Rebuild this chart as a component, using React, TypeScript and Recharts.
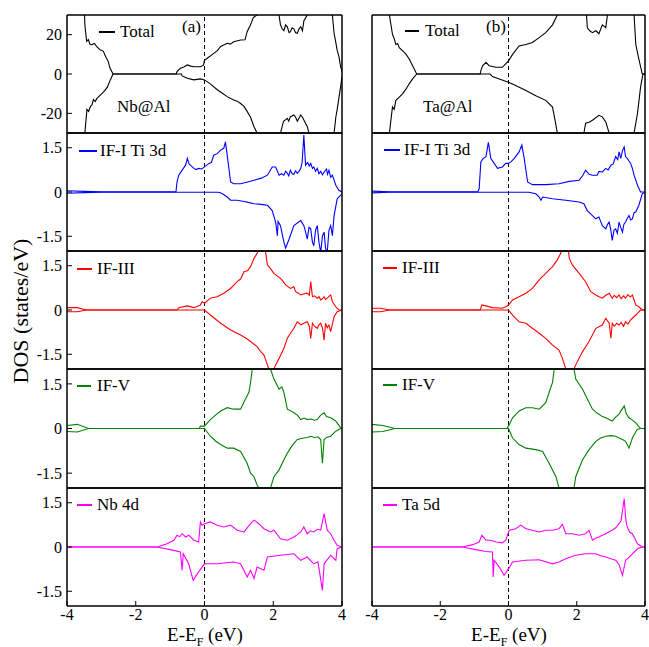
import React from 'react';
import { LineChart, Line, XAxis, YAxis, ReferenceLine } from 'recharts';

type Pt = [number, number];

// axis ticks
const energyTicks = [-4, -2, 0, 2, 4];
const totalTicks = [-20, 0, 20];
const pdosTicks = [-1.5, 0, 1.5];

// (a) Nb@Al  -- [E - EF (eV), DOS (states/eV)], spin up then spin down
const nbTotalUp: Pt[] = [[-4,45],[-3.52,45],[-3.48,25],[-3.45,20],[-3.43,16.6],[-3.38,17.5],[-3.33,15],[-3.28,14.9],[-3.2,15.5],[-3.14,14],[-3.08,13],[-3.04,12.3],[-2.98,12],[-2.94,11.4],[-2.88,9],[-2.8,6.3],[-2.75,3],[-2.66,0],[-0.82,0],[-0.8,1.2],[-0.7,2.9],[-0.6,3.6],[-0.5,4.6],[-0.4,4],[-0.31,3.7],[-0.12,3.7],[-0.03,4.5],[0,7],[0.08,8],[0.27,10.5],[0.38,12],[0.47,14],[0.66,15.6],[0.75,15.2],[0.85,16.4],[1.05,17.3],[1.18,17.4],[1.24,21.5],[1.34,25],[1.42,28.7],[1.53,30],[1.6,38],[2.1,38],[2.21,25],[2.26,23],[2.31,22],[2.36,25],[2.41,24],[2.46,21],[2.5,21.5],[2.55,23.5],[2.6,23],[2.65,21],[2.7,20.7],[2.75,23],[2.8,24],[2.85,22],[2.89,27],[2.99,30],[3.1,40],[3.65,40],[3.72,30],[3.77,20.7],[3.81,17],[3.86,12],[3.91,9],[3.96,3.7],[4,1.2]];
const nbTotalDn: Pt[] = [[-4,-45],[-3.52,-45],[-3.48,-30],[-3.42,-18],[-3.37,-19],[-3.32,-16.6],[-3.27,-15.5],[-3.23,-13],[-3.18,-14],[-3.13,-12.4],[-3.03,-10.7],[-2.93,-9],[-2.83,-6.8],[-2.74,-3],[-2.66,0],[-0.67,0],[-0.65,-1],[-0.5,-2.2],[-0.31,-3],[-0.12,-2.5],[0,-3],[0.17,-5],[0.37,-8],[0.5,-9.5],[0.66,-11.5],[0.85,-13.2],[0.95,-13.8],[1.05,-15],[1.15,-16.5],[1.24,-19],[1.34,-22],[1.44,-26.8],[1.53,-30],[1.6,-38],[2.15,-38],[2.21,-30],[2.3,-24],[2.41,-22.5],[2.45,-24],[2.5,-21.7],[2.6,-20.8],[2.65,-22],[2.7,-24],[2.8,-20.8],[2.85,-22],[2.89,-23.4],[2.99,-26.8],[3.04,-30],[3.1,-40],[3.7,-40],[3.77,-30],[3.82,-22],[3.86,-18],[3.96,-6.4],[4,-1.4]];
const nbIF1Up: Pt[] = [[-4,0.04],[-3.5,0.02],[-3,0.01],[-0.83,0.01],[-0.8,0.34],[-0.75,0.57],[-0.65,0.74],[-0.55,0.91],[-0.5,1.14],[-0.45,0.95],[-0.41,0.91],[-0.31,0.8],[-0.25,0.76],[-0.17,0.8],[-0.08,0.78],[0,0.85],[0.13,0.97],[0.2,1.0],[0.27,1.25],[0.37,1.3],[0.47,1.42],[0.56,1.48],[0.61,1.7],[0.66,1.25],[0.76,0.34],[0.85,0.28],[1.05,0.28],[1.25,0.34],[1.44,0.4],[1.65,0.47],[1.83,0.57],[1.97,0.85],[2.07,0.85],[2.17,0.57],[2.24,0.62],[2.31,0.57],[2.36,0.7],[2.4,0.65],[2.45,0.55],[2.5,0.74],[2.55,0.62],[2.6,0.6],[2.65,0.72],[2.7,0.63],[2.75,0.7],[2.8,0.8],[2.84,1.0],[2.89,1.93],[2.94,0.91],[3.0,1.0],[3.05,0.88],[3.09,0.97],[3.14,0.8],[3.18,0.85],[3.23,0.7],[3.28,0.8],[3.33,0.62],[3.38,0.7],[3.43,0.58],[3.48,0.68],[3.55,0.78],[3.58,0.6],[3.62,0.74],[3.67,0.5],[3.72,0.57],[3.82,0.23],[3.91,0.06],[4,0]];
const nbIF1Dn: Pt[] = [[-4,-0.04],[-3.5,-0.02],[-3,-0.01],[0.4,-0.01],[0.5,-0.04],[0.66,-0.17],[0.76,-0.28],[0.95,-0.28],[1.15,-0.32],[1.3,-0.36],[1.44,-0.4],[1.65,-0.42],[1.83,-0.45],[1.97,-0.63],[2.07,-1.02],[2.12,-1.48],[2.14,-1.0],[2.21,-1.14],[2.31,-1.7],[2.36,-1.9],[2.46,-1.6],[2.6,-1.14],[2.7,-1.05],[2.8,-0.97],[2.89,-1.14],[2.94,-1.35],[2.99,-1.6],[3.04,-1.2],[3.09,-1.25],[3.14,-1.7],[3.18,-1.82],[3.23,-1.3],[3.28,-1.14],[3.33,-1.7],[3.38,-2.05],[3.43,-1.5],[3.48,-1.36],[3.52,-1.9],[3.57,-2.05],[3.62,-1.3],[3.67,-1.14],[3.72,-1.48],[3.77,-0.8],[3.86,-0.23],[4,-0.06]];
const nbIF3Up: Pt[] = [[-4,0.08],[-3.7,0.08],[-3.44,0],[-0.8,0],[-0.75,0.08],[-0.5,0.14],[-0.31,0.08],[-0.12,0.17],[-0.07,0.28],[0,0.23],[0.17,0.4],[0.37,0.45],[0.56,0.57],[0.76,0.73],[0.95,0.96],[1.05,1.05],[1.15,1.3],[1.25,1.33],[1.34,1.47],[1.44,1.75],[1.53,1.92],[1.6,2.1],[1.68,2.4],[1.76,2.1],[1.83,1.53],[1.92,1.4],[2.02,1.24],[2.12,1.15],[2.21,1.07],[2.28,0.98],[2.36,0.85],[2.5,0.73],[2.6,0.79],[2.65,0.62],[2.72,0.58],[2.8,0.51],[2.9,0.55],[2.99,0.57],[3.05,0.5],[3.09,0.96],[3.14,0.45],[3.2,0.48],[3.28,0.4],[3.33,0.45],[3.38,0.34],[3.43,0.38],[3.48,0.45],[3.52,0.36],[3.57,0.4],[3.62,0.46],[3.67,0.51],[3.72,0.28],[3.82,0.11],[3.91,0],[4,0]];
const nbIF3Dn: Pt[] = [[-4,-0.06],[-3.7,-0.06],[-3.44,0],[0,0],[0.17,-0.17],[0.47,-0.45],[0.76,-0.68],[1.05,-0.85],[1.2,-0.95],[1.34,-1.07],[1.53,-1.24],[1.63,-1.4],[1.73,-1.53],[1.83,-1.86],[1.87,-2.0],[1.95,-2.4],[2.02,-2.0],[2.07,-1.86],[2.17,-1.64],[2.31,-1.3],[2.41,-0.96],[2.5,-0.79],[2.6,-0.62],[2.7,-0.4],[2.8,-0.5],[2.89,-0.45],[2.99,-0.4],[3.05,-0.55],[3.09,-0.96],[3.14,-0.45],[3.2,-0.55],[3.28,-0.62],[3.33,-0.5],[3.38,-0.45],[3.43,-0.6],[3.48,-1.02],[3.52,-0.45],[3.57,-0.6],[3.62,-0.51],[3.67,-0.73],[3.77,-0.23],[3.86,-0.06],[4,0]];
const nbIF5Up: Pt[] = [[-4,0.1],[-3.7,0.14],[-3.37,0],[-0.15,0],[-0.12,0.08],[0,0.08],[0.17,0.3],[0.32,0.45],[0.47,0.59],[0.66,0.7],[0.85,0.65],[1.05,0.65],[1.19,0.99],[1.29,1.21],[1.34,1.55],[1.39,2.0],[1.63,2.5],[1.92,2.0],[2.02,1.66],[2.17,1.32],[2.25,1.4],[2.31,1.21],[2.41,0.65],[2.5,0.6],[2.6,0.53],[2.7,0.45],[2.8,0.3],[2.9,0.35],[2.99,0.3],[3.1,0.32],[3.2,0.28],[3.28,0.3],[3.38,0.45],[3.48,0.53],[3.55,0.4],[3.67,0.36],[3.75,0.3],[3.82,0.25],[3.9,0.12],[3.96,0.02],[4,0]];
const nbIF5Dn: Pt[] = [[-4,-0.1],[-3.7,-0.12],[-3.37,0],[0,0],[0.17,-0.26],[0.32,-0.42],[0.47,-0.54],[0.66,-0.66],[0.85,-0.66],[1.05,-0.77],[1.24,-1.17],[1.34,-1.5],[1.44,-1.62],[1.53,-1.9],[1.58,-2.0],[1.73,-2.3],[1.92,-2.0],[2.02,-1.62],[2.17,-1.39],[2.31,-1.05],[2.4,-0.85],[2.5,-0.66],[2.6,-0.5],[2.7,-0.37],[2.89,-0.32],[3.0,-0.3],[3.09,-0.26],[3.2,-0.3],[3.3,-0.28],[3.38,-0.37],[3.43,-1.17],[3.48,-0.37],[3.55,-0.3],[3.67,-0.26],[3.82,-0.09],[3.96,0],[4,0]];
const nb4dUp: Pt[] = [[-4,0],[-1.38,0],[-1.09,0.11],[-0.89,0.23],[-0.8,0.4],[-0.72,0.35],[-0.65,0.45],[-0.55,0.34],[-0.46,0.4],[-0.31,0.23],[-0.17,0.17],[-0.12,0.85],[-0.07,0.74],[0,0.79],[0.17,0.85],[0.37,0.74],[0.56,0.68],[0.76,0.74],[0.95,0.57],[1.15,0.51],[1.34,0.79],[1.44,0.91],[1.58,0.79],[1.73,0.62],[1.85,0.55],[1.92,0.51],[2.02,0.57],[2.21,0.28],[2.41,0.23],[2.6,0.34],[2.7,0.42],[2.8,0.51],[2.89,0.68],[2.99,0.45],[3.08,0.55],[3.18,0.51],[3.28,0.6],[3.38,0.57],[3.48,1.13],[3.57,0.57],[3.67,0.45],[3.77,0.23],[3.86,0.06],[4,0]];
const nb4dDn: Pt[] = [[-4,0],[-1.38,0],[-0.99,-0.09],[-0.7,-0.17],[-0.65,-0.79],[-0.62,-0.23],[-0.46,-0.57],[-0.33,-1.13],[-0.21,-0.91],[-0.07,-0.68],[0,-0.57],[0.37,-0.57],[0.85,-0.51],[1.05,-0.57],[1.24,-1.02],[1.34,-0.79],[1.44,-1.07],[1.53,-0.68],[1.73,-0.79],[1.83,-0.34],[2.21,-0.28],[2.6,-0.23],[2.8,-0.45],[2.99,-0.34],[3.08,-0.45],[3.18,-0.57],[3.3,-0.5],[3.43,-1.47],[3.48,-0.57],[3.67,-0.28],[3.82,-0.45],[3.86,-0.06],[4,0]];

// (b) Ta@Al
const taTotalUp: Pt[] = [[-4,45],[-3.55,45],[-3.49,30],[-3.4,20.2],[-3.35,18],[-3.3,15],[-3.25,15.5],[-3.2,13.4],[-3.1,11.8],[-3.0,10],[-2.91,7.6],[-2.81,4.2],[-2.69,0],[-0.83,0],[-0.81,1.7],[-0.76,4.2],[-0.66,5.9],[-0.57,4.2],[-0.37,3.4],[-0.18,3.4],[0,6.7],[0.12,10],[0.31,14.3],[0.51,15],[0.7,16],[0.9,18.5],[1.09,21],[1.29,25],[1.43,30],[1.5,40],[2.25,40],[2.31,23.5],[2.38,22],[2.46,21],[2.56,22],[2.65,20.5],[2.75,25],[2.85,23.5],[2.9,30],[2.95,40],[3.62,40],[3.68,30],[3.73,15],[3.82,7.6],[3.92,0],[4,0]];
const taTotalDn: Pt[] = [[-4,-45],[-3.55,-45],[-3.49,-30],[-3.4,-16.8],[-3.35,-18],[-3.3,-13.4],[-3.2,-11.8],[-3.1,-10],[-3.0,-7.6],[-2.91,-5],[-2.81,-2.5],[-2.69,0],[-0.54,0],[-0.47,-1.3],[-0.27,-2.5],[0,-4.2],[0.21,-5.9],[0.51,-8.4],[0.8,-11],[1.09,-13.4],[1.29,-16.8],[1.38,-25],[1.43,-30],[1.5,-40],[2.15,-40],[2.21,-30],[2.26,-25],[2.36,-24.5],[2.46,-23.5],[2.65,-21],[2.75,-21.8],[2.85,-24.4],[2.95,-30],[3.0,-40],[3.62,-40],[3.68,-30],[3.78,-20],[3.87,-6.7],[3.94,0],[4,0]];
const taIF1Up: Pt[] = [[-4,0.03],[-3.5,0.01],[-0.9,0.01],[-0.86,0.11],[-0.81,1.02],[-0.74,1.14],[-0.66,1.2],[-0.59,1.68],[-0.52,1.14],[-0.42,0.97],[-0.32,0.8],[-0.18,0.85],[-0.08,0.97],[0,0.97],[0.07,1.02],[0.17,1.14],[0.31,1.36],[0.39,1.59],[0.46,1.14],[0.56,0.34],[0.7,0.25],[1.09,0.25],[1.48,0.28],[1.78,0.36],[2.07,0.4],[2.17,0.55],[2.26,0.74],[2.36,0.6],[2.46,0.57],[2.6,0.57],[2.65,0.7],[2.75,0.68],[2.85,0.8],[2.92,0.75],[3.0,0.91],[3.07,0.95],[3.14,1.2],[3.2,1.1],[3.24,1.36],[3.29,1.14],[3.34,1.4],[3.39,1.53],[3.43,1.2],[3.48,1.14],[3.53,1.05],[3.58,0.97],[3.63,0.8],[3.68,0.57],[3.78,0.23],[3.87,0.0],[4,0]];
const taIF1Dn: Pt[] = [[-4,-0.03],[-3.5,-0.01],[0.6,-0.01],[0.8,-0.06],[0.9,-0.17],[0.95,-0.28],[1.0,-0.17],[1.29,-0.23],[1.68,-0.28],[2.07,-0.34],[2.21,-0.4],[2.31,-0.63],[2.46,-0.8],[2.56,-0.91],[2.65,-0.85],[2.75,-1.14],[2.85,-1.25],[2.9,-1.1],[2.95,-1.02],[3.0,-1.3],[3.04,-1.64],[3.09,-1.3],[3.14,-1.25],[3.19,-1.4],[3.24,-1.02],[3.29,-1.2],[3.34,-1.36],[3.38,-1.1],[3.43,-1.02],[3.48,-0.9],[3.53,-0.8],[3.58,-0.95],[3.63,-0.91],[3.68,-0.7],[3.73,-0.68],[3.82,-0.45],[3.92,-0.06],[4,0]];
const taIF3Up: Pt[] = [[-4,0.06],[-3.75,0.06],[-3.48,0],[-0.83,0],[-0.78,0.17],[-0.66,0.14],[-0.47,0.08],[-0.18,0.06],[-0.08,0.11],[0,0.17],[0.12,0.34],[0.31,0.45],[0.51,0.57],[0.7,0.73],[0.9,1.02],[1.09,1.24],[1.29,1.47],[1.43,1.7],[1.53,1.92],[1.63,2.4],[1.73,2.3],[1.78,1.75],[1.87,1.53],[2.07,1.24],[2.26,0.96],[2.41,0.62],[2.56,0.51],[2.65,0.45],[2.75,0.4],[2.85,0.5],[2.95,0.57],[3.04,0.4],[3.1,0.5],[3.17,0.42],[3.24,0.51],[3.3,0.38],[3.37,0.48],[3.43,0.4],[3.5,0.52],[3.57,0.44],[3.63,0.51],[3.73,0.17],[3.82,0.11],[3.92,0],[4,0]];
const taIF3Dn: Pt[] = [[-4,-0.06],[-3.75,-0.06],[-3.48,0],[0,0],[0.12,-0.17],[0.31,-0.4],[0.51,-0.45],[0.7,-0.62],[0.9,-0.79],[1.09,-0.96],[1.29,-1.19],[1.48,-1.36],[1.58,-1.64],[1.68,-2.0],[1.82,-2.3],[1.92,-2.0],[1.97,-1.86],[2.17,-1.41],[2.36,-1.07],[2.56,-0.62],[2.75,-0.51],[2.85,-0.28],[2.95,-0.45],[3.0,-0.96],[3.04,-0.45],[3.1,-0.55],[3.17,-0.45],[3.24,-0.51],[3.3,-0.42],[3.37,-0.55],[3.43,-0.4],[3.5,-0.48],[3.57,-0.35],[3.63,-0.28],[3.73,-0.17],[3.87,0],[4,0]];
const taIF5Up: Pt[] = [[-4,0.14],[-3.68,0.1],[-3.33,0],[-0.05,0],[0,0.08],[0.12,0.36],[0.31,0.59],[0.51,0.7],[0.7,0.7],[0.9,0.65],[1.09,0.87],[1.19,1.21],[1.29,1.55],[1.34,2.0],[1.63,2.4],[1.92,2.0],[1.97,1.66],[2.17,1.32],[2.31,0.99],[2.46,0.65],[2.56,0.55],[2.65,0.48],[2.75,0.4],[2.85,0.36],[2.95,0.3],[3.04,0.25],[3.14,0.38],[3.24,0.48],[3.3,0.6],[3.39,0.76],[3.45,0.5],[3.53,0.36],[3.63,0.28],[3.73,0.19],[3.87,0],[4,0]];
const taIF5Dn: Pt[] = [[-4,-0.12],[-3.68,-0.1],[-3.33,0],[0,0],[0.12,-0.32],[0.31,-0.54],[0.51,-0.66],[0.8,-0.71],[1.0,-0.77],[1.19,-1.17],[1.39,-1.62],[1.48,-2.0],[1.68,-2.3],[1.92,-2.0],[1.97,-1.62],[2.17,-1.05],[2.36,-0.71],[2.56,-0.43],[2.7,-0.32],[2.85,-0.26],[3.0,-0.24],[3.14,-0.26],[3.24,-0.32],[3.34,-0.37],[3.43,-0.43],[3.53,-0.66],[3.63,-0.32],[3.77,-0.03],[3.87,0],[4,0]];
const ta5dUp: Pt[] = [[-4,0],[-1.35,0],[-1.05,0.08],[-0.86,0.17],[-0.78,0.4],[-0.66,0.23],[-0.52,0.23],[-0.37,0.17],[-0.18,0.14],[-0.08,0.23],[0.02,0.57],[0.21,0.62],[0.36,0.74],[0.51,0.62],[0.7,0.57],[0.9,0.51],[1.09,0.57],[1.29,0.57],[1.48,0.62],[1.58,0.77],[1.68,0.45],[1.87,0.45],[2.07,0.4],[2.26,0.45],[2.36,0.57],[2.46,0.23],[2.55,0.3],[2.65,0.34],[2.75,0.4],[2.85,0.45],[2.95,0.52],[3.04,0.57],[3.14,0.65],[3.24,0.79],[3.3,0.9],[3.39,1.64],[3.44,0.9],[3.48,0.68],[3.55,0.5],[3.63,0.45],[3.7,0.3],[3.78,0.11],[3.92,0],[4,0]];
const ta5dDn: Pt[] = [[-4,0],[-1.35,0],[-0.96,-0.09],[-0.66,-0.15],[-0.47,-0.17],[-0.45,-1.02],[-0.42,-0.45],[-0.27,-0.68],[-0.13,-0.96],[0,-0.74],[0.12,-0.51],[0.51,-0.45],[0.9,-0.43],[1.29,-0.57],[1.48,-0.51],[1.68,-0.4],[1.97,-0.28],[2.26,-0.23],[2.56,-0.23],[2.7,-0.3],[2.85,-0.34],[3.0,-0.4],[3.14,-0.45],[3.24,-0.6],[3.34,-0.96],[3.43,-0.45],[3.53,-0.35],[3.63,-0.23],[3.78,-0.06],[3.92,0],[4,0]];

const FONT = "'Liberation Serif', 'Times New Roman', serif";
const ROW_TOP = [15, 133, 251, 369, 488];
const ROW_H = [118, 118, 118, 119, 118];

const pts = (a: Pt[]) => a.map(([x, y]) => ({ x, y }));

interface PanelDef {
  up: Pt[];
  dn: Pt[];
  color: string;
  label: string;
  total?: boolean;
  lx: number; // legend line start
  ll: number; // legend line length
  ly: number; // legend centre
  tx: number; // legend text start
}

const colA: PanelDef[] = [
  { up: nbTotalUp, dn: nbTotalDn, color: '#000', label: 'Total', total: true, lx: 99, ll: 16, ly: 32, tx: 120 },
  { up: nbIF1Up, dn: nbIF1Dn, color: '#0000ff', label: 'IF-I Ti 3d', lx: 79, ll: 18, ly: 151, tx: 100 },
  { up: nbIF3Up, dn: nbIF3Dn, color: '#ff0000', label: 'IF-III', lx: 77, ll: 15, ly: 269, tx: 97 },
  { up: nbIF5Up, dn: nbIF5Dn, color: '#008000', label: 'IF-V', lx: 77, ll: 14, ly: 386, tx: 97 },
  { up: nb4dUp, dn: nb4dDn, color: '#ff00ff', label: 'Nb 4d', lx: 77, ll: 15, ly: 505, tx: 97 },
];
const colB: PanelDef[] = [
  { up: taTotalUp, dn: taTotalDn, color: '#000', label: 'Total', total: true, lx: 405, ll: 14, ly: 31, tx: 425 },
  { up: taIF1Up, dn: taIF1Dn, color: '#0000ff', label: 'IF-I Ti 3d', lx: 384, ll: 16, ly: 150, tx: 404 },
  { up: taIF3Up, dn: taIF3Dn, color: '#ff0000', label: 'IF-III', lx: 383, ll: 14, ly: 268, tx: 402 },
  { up: taIF5Up, dn: taIF5Dn, color: '#008000', label: 'IF-V', lx: 383, ll: 14, ly: 385, tx: 402 },
  { up: ta5dUp, dn: ta5dDn, color: '#ff00ff', label: 'Ta 5d', lx: 383, ll: 14, ly: 505, tx: 402 },
];

const tickFont = { fill: '#000', fontSize: 16, fontFamily: FONT };
const axisStroke = { stroke: '#000', strokeWidth: 1.5 };

function Panel({ def, row, plotLeft, plotW, yLabels }: { def: PanelDef; row: number; plotLeft: number; plotW: number; yLabels: boolean }) {
  const last = row === 4;
  const AX = yLabels ? 60 : 12;
  const BX = last ? 30 : 4;
  const h = ROW_H[row];
  const domain: [number, number] = def.total ? [-30, 30] : [-2, 2];
  const yTicks = def.total ? totalTicks : pdosTicks;
  return (
    <div style={{ position: 'absolute', left: plotLeft - AX, top: ROW_TOP[row] - 4 }}>
      <LineChart width={AX + plotW + 8} height={4 + h + BX} margin={{ top: 0, right: 4, bottom: 0, left: 0 }}>
        <XAxis xAxisId="b" dataKey="x" type="number" domain={[-4, 4]} allowDataOverflow ticks={energyTicks} interval={0}
          height={BX} tickSize={-5} tickMargin={7.5} axisLine={axisStroke} tickLine={{ stroke: '#000' }}
          tick={last ? tickFont : false} />
        <XAxis xAxisId="t" orientation="top" dataKey="x" type="number" domain={[-4, 4]} allowDataOverflow ticks={energyTicks} interval={0}
          height={4} tickSize={-5} axisLine={axisStroke} tickLine={{ stroke: '#000' }} tick={false} />
        <YAxis yAxisId="l" type="number" domain={domain} allowDataOverflow ticks={yTicks} interval={0}
          width={AX} tickSize={-5} tickMargin={10} axisLine={axisStroke} tickLine={{ stroke: '#000' }}
          tick={yLabels ? tickFont : false} />
        <YAxis yAxisId="r" orientation="right" type="number" domain={domain} allowDataOverflow ticks={yTicks} interval={0}
          width={4} tickSize={-5} axisLine={axisStroke} tickLine={{ stroke: '#000' }} tick={false} />
        <ReferenceLine xAxisId="b" yAxisId="l" x={0} stroke="#000" strokeWidth={1} strokeDasharray="4 3" />
        <Line xAxisId="b" yAxisId="l" data={pts(def.up)} dataKey="y" type="linear" stroke={def.color} strokeWidth={1.1} dot={false} isAnimationActive={false} />
        <Line xAxisId="b" yAxisId="l" data={pts(def.dn)} dataKey="y" type="linear" stroke={def.color} strokeWidth={1.1} dot={false} isAnimationActive={false} />
      </LineChart>
    </div>
  );
}

function LegendItem({ def }: { def: PanelDef }) {
  return (
    <>
      <div style={{ position: 'absolute', left: def.lx, top: def.ly - 1, width: def.ll, height: 1.5, background: def.color }} />
      <div style={{ position: 'absolute', left: def.tx, top: def.ly - 10, lineHeight: '20px', fontSize: 17, fontFamily: FONT, color: '#000', whiteSpace: 'nowrap' }}>
        {def.label}
      </div>
    </>
  );
}

const textStyle: React.CSSProperties = { position: 'absolute', fontFamily: FONT, color: '#000', whiteSpace: 'nowrap', lineHeight: '20px' };
const titleStyle: React.CSSProperties = { ...textStyle, top: 627.6, width: 200, textAlign: 'center', fontSize: 19, lineHeight: '13px' };

export default function App() {
  return (
    <div style={{ position: 'absolute', left: 0, top: 0, width: 649, height: 647, background: '#fff', overflow: 'hidden' }}>
      {colA.map((d, i) => (
        <Panel key={`a${i}`} def={d} row={i} plotLeft={67} plotW={275} yLabels />
      ))}
      {colB.map((d, i) => (
        <Panel key={`b${i}`} def={d} row={i} plotLeft={372} plotW={273} yLabels={false} />
      ))}
      {colA.map((d, i) => <LegendItem key={`la${i}`} def={d} />)}
      {colB.map((d, i) => <LegendItem key={`lb${i}`} def={d} />)}

      <div style={{ ...textStyle, left: 182, top: 17, fontSize: 17 }}>(a)</div>
      <div style={{ ...textStyle, left: 486, top: 17, fontSize: 17 }}>(b)</div>
      <div style={{ ...textStyle, left: 117, top: 97, fontSize: 17 }}>Nb@Al</div>
      <div style={{ ...textStyle, left: 423, top: 97, fontSize: 17 }}>Ta@Al</div>

      <div style={{ ...titleStyle, left: 105 }}>
        E-E<sub style={{ fontSize: 12, lineHeight: 0 }}>F</sub> (eV)
      </div>
      <div style={{ ...titleStyle, left: 409 }}>
        E-E<sub style={{ fontSize: 12, lineHeight: 0 }}>F</sub> (eV)
      </div>
      <div style={{ ...textStyle, left: -79, top: 301, width: 200, height: 20, textAlign: 'center', fontSize: 22, transform: 'rotate(-90deg)' }}>
        DOS (states/eV)
      </div>
    </div>
  );
}
